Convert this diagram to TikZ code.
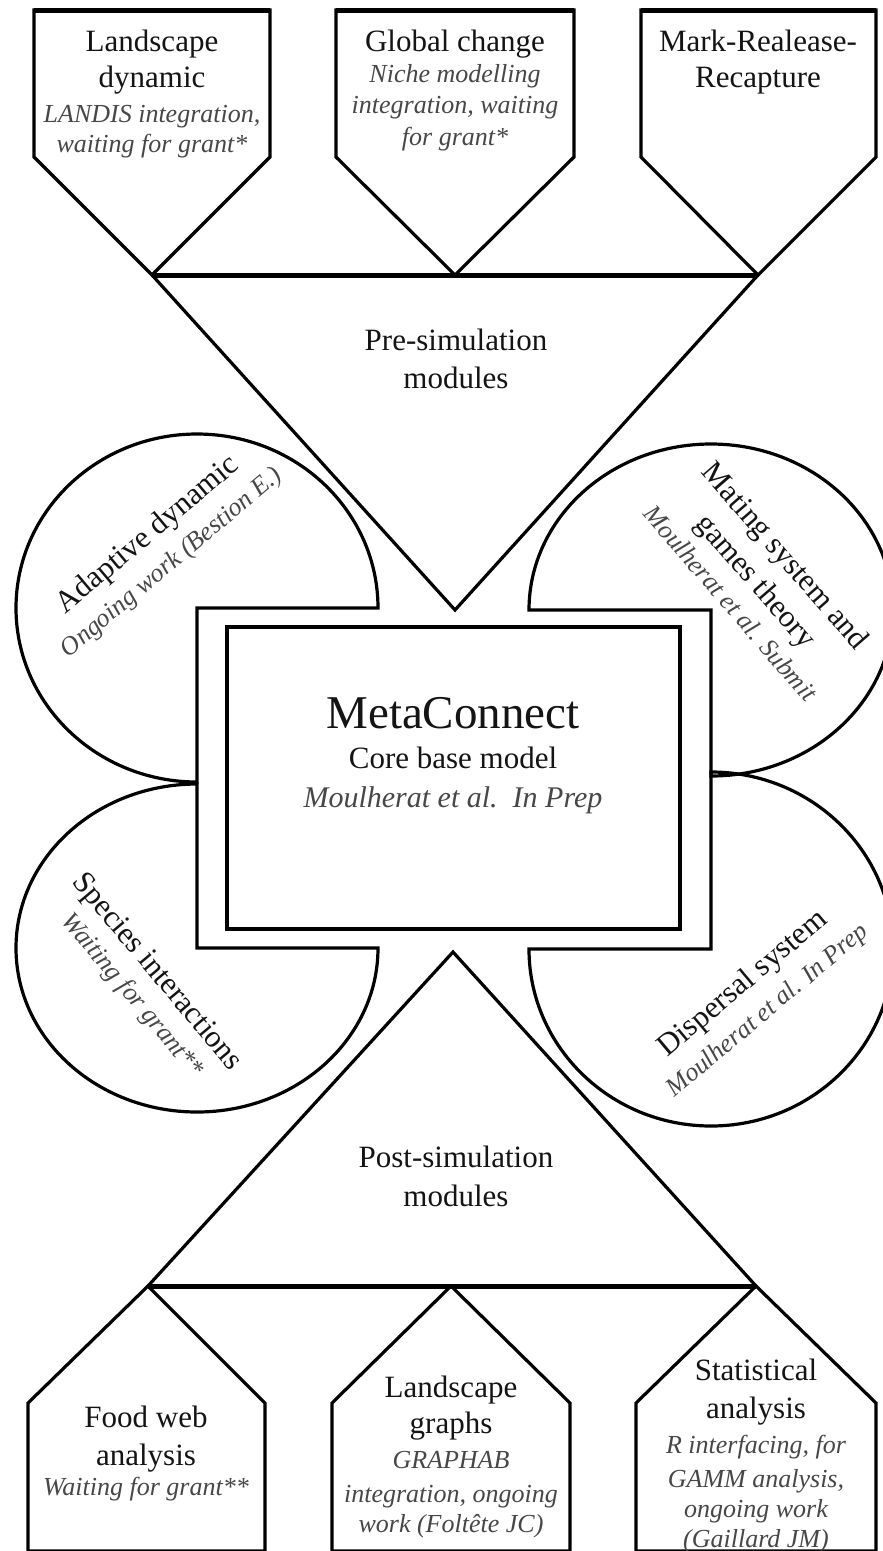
\documentclass[tikz,border=0pt]{standalone}
\usepackage{fontspec}
\setmainfont{Liberation Serif}
\begin{document}
\begin{tikzpicture}[x=1pt,y=-1pt,line join=miter,
  shp/.style={draw=black,line width=3.2pt},
  bar/.style={draw=black,line width=5pt},
  up/.style={font=\fontsize{31}{36}\selectfont,text=black!92,anchor=base,inner sep=0pt},
  it/.style={font=\itshape\fontsize{26}{32}\selectfont,text=black!72,anchor=base,inner sep=0pt}]
\useasboundingbox (0,0) rectangle (883,1551);
\fill[white] (0,0) rectangle (883,1551);
\clip (0,0) rectangle (883,1551);

% ---- top pentagons
\draw[shp] (34,10) -- (270,10) -- (270,157) -- (152,275) -- (34,157) -- cycle;
\draw[shp] (336,10) -- (574,10) -- (574,157) -- (455,275) -- (336,157) -- cycle;
\draw[shp] (641,10) -- (876,10) -- (876,157) -- (758,275) -- (641,157) -- cycle;
\draw[bar] (34,10) -- (270,10);
\draw[bar] (336,10) -- (574,10);
\draw[bar] (641,10) -- (876,10);
\draw[bar] (152,275) -- (758,275);

% ---- upper triangle
\coordinate (preL) at (152,275);
\coordinate (preR) at (758,275);
\coordinate (preT) at (455,610);
\draw[shp] (preL) -- (preT) -- (preR);

% ---- lobes (3/4 pies centred on frame corners)
\coordinate (ULc) at (197,608);
\coordinate (URc) at (711,610);
\coordinate (LLc) at (197,948);
\coordinate (LRc) at (711,949);
\draw[shp] (ULc) -- ++(181,0) arc[start angle=0,end angle=-270,x radius=181,y radius=174] -- cycle;
\draw[shp] (URc) -- ++(-182,0) arc[start angle=180,end angle=450,x radius=182,y radius=166] -- cycle;
\draw[shp] (LLc) -- ++(0,-164) arc[start angle=-90,end angle=-360,x radius=181,y radius=164] -- cycle;
\draw[shp] (LRc) -- ++(0,-177) arc[start angle=-90,end angle=180,x radius=182,y radius=177] -- cycle;

% ---- inner frame
\draw[draw=black,line width=4.2pt] (227,627) rectangle (680,929);

% ---- lower triangle
\coordinate (postT) at (453,952);
\coordinate (postL) at (148,1286);
\coordinate (postR) at (756,1286);
\draw[shp] (postL) -- (postT) -- (postR);
\draw[bar] (postL) -- (postR);

% ---- bottom pentagons
\draw[shp] (148,1286) -- (265,1403) -- (265,1551) -- (28,1551) -- (28,1403) -- cycle;
\draw[shp] (451,1286) -- (570,1403) -- (570,1551) -- (332,1551) -- (332,1403) -- cycle;
\draw[shp] (756,1286) -- (876,1403) -- (876,1551) -- (636,1551) -- (636,1403) -- cycle;

% ---- texts top
\node[up] (t1a) at (152,51) {Landscape};
\node[up] (t1b) at (152,87) {dynamic};
\node[it] (t1c) at (152,122) {LANDIS integration,};
\node[it] (t1d) at (152,152) {waiting for grant*};
\node[up] (t2a) at (455,51) {Global change};
\node[it] (t2b) at (455,82) {Niche modelling};
\node[it] (t2c) at (455,113) {integration, waiting};
\node[it] (t2d) at (455,145) {for grant*};
\node[up] (t3a) at (758,51) {Mark-Realease-};
\node[up] (t3b) at (758,87) {Recapture};

\node[up] (pre1) at (456,350) {Pre-simulation};
\node[up] (pre2) at (456,388) {modules};

% ---- core
\node[up,font=\fontsize{47}{52}\selectfont] (core1) at (453,728) {MetaConnect};
\node[up] (core2) at (453,768) {Core base model};
\node[it,font=\itshape\fontsize{30}{34}\selectfont] (core3) at (453,807) {Moulherat et al.\enspace In Prep};

% ---- lobes text
\node[up,rotate=40] (ul1) at (153,541) {Adaptive dynamic};
\node[it,rotate=40] (ul2) at (176,568) {Ongoing work (Bestion E.)};
\node[up,rotate=-49] (ur1) at (778,562) {Mating system and};
\node[up,rotate=-49] (ur2) at (749,587) {games theory};
\node[it,rotate=-49] (ur3) at (724,609) {Moulherat et al. Submit};
\node[up,rotate=-50] (ll1) at (151,977) {Species interactions};
\node[it,rotate=-50] (ll2) at (127,1000) {Waiting for grant**};
\node[up,rotate=40] (lr1) at (748,990) {Dispersal system};
\node[it,rotate=40] (lr2) at (772,1016) {Moulherat et al. In Prep};

\node[up] (post1) at (456,1167) {Post-simulation};
\node[up] (post2) at (456,1206) {modules};

% ---- texts bottom
\node[up] (b1a) at (146,1427) {Food web};
\node[up] (b1b) at (146,1465) {analysis};
\node[it] (b1c) at (146,1495) {Waiting for grant**};
\node[up] (b2a) at (451,1397) {Landscape};
\node[up] (b2b) at (451,1433) {graphs};
\node[it] (b2c) at (451,1468) {GRAPHAB};
\node[it] (b2d) at (451,1502) {integration, ongoing};
\node[it] (b2e) at (451,1532) {work (Foltête JC)};
\node[up] (b3a) at (756,1380) {Statistical};
\node[up] (b3b) at (756,1418) {analysis};
\node[it] (b3c) at (756,1453) {R interfacing, for};
\node[it] (b3d) at (756,1487) {GAMM analysis,};
\node[it] (b3e) at (756,1517) {ongoing work};
\node[it] (b3f) at (756,1547) {(Gaillard JM)};
\end{tikzpicture}
\end{document}
